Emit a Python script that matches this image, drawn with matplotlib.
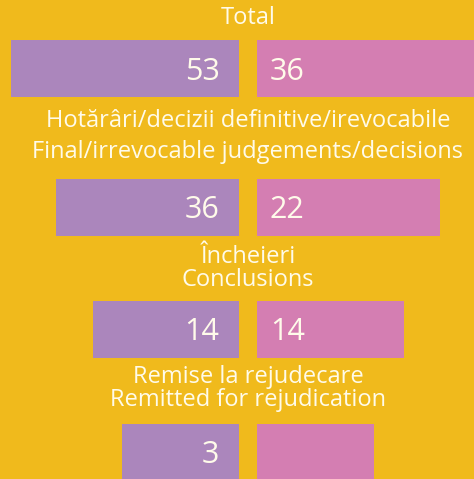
import matplotlib.pyplot as plt

# data
row_titles = [
    ['Total'],
    ['Hotărâri/decizii definitive/irevocabile', 'Final/irrevocable judgements/decisions'],
    ['Încheieri', 'Conclusions'],
    ['Remise la rejudecare', 'Remitted for rejudication'],
]
purple_labels = ['53', '36', '14', '3']
pink_labels = ['36', '22', '14', '']
# drawn bar lengths (the source chart is not to scale)
purple_len = [229, 184, 147, 117]
pink_len = [220, 183, 147, 117]

# layout, in pixels
bg = '#F0BA1C'
purple = '#AB86BC'
pink = '#D47EB2'
txt = '#FFFBEA'
bar_y = [68.5, 207.5, 329.5, 452]
bar_h = 57
title_y = [[18], [121, 152], [257, 280], [377, 400]]
mid_left = 239.5
mid_right = 257
cx = 248

plt.rcParams['font.family'] = ['Open Sans', 'DejaVu Sans']

fig = plt.figure(figsize=(4.74, 4.79), dpi=100, facecolor=bg)
ax = fig.add_axes([0, 0, 1, 1])
ax.set_facecolor(bg)
ax.set_xlim(0, 474)
ax.set_ylim(479, 0)
ax.axis('off')

ax.barh(bar_y, [-w for w in purple_len], left=mid_left, height=bar_h, color=purple)
ax.barh(bar_y, pink_len, left=mid_right, height=bar_h, color=pink)

for i in range(len(bar_y)):
    ax.text(mid_left - 20, bar_y[i] + 3, purple_labels[i], ha='right', va='center',
            fontsize=22, color=txt)
    ax.text(mid_right + 13, bar_y[i] + 3, pink_labels[i], ha='left', va='center',
            fontsize=22, color=txt)
    for line, y in zip(row_titles[i], title_y[i]):
        ax.text(cx, y, line, ha='center', va='center', fontsize=17, color=txt)

fig.savefig('out.png', dpi=100, facecolor=bg)
